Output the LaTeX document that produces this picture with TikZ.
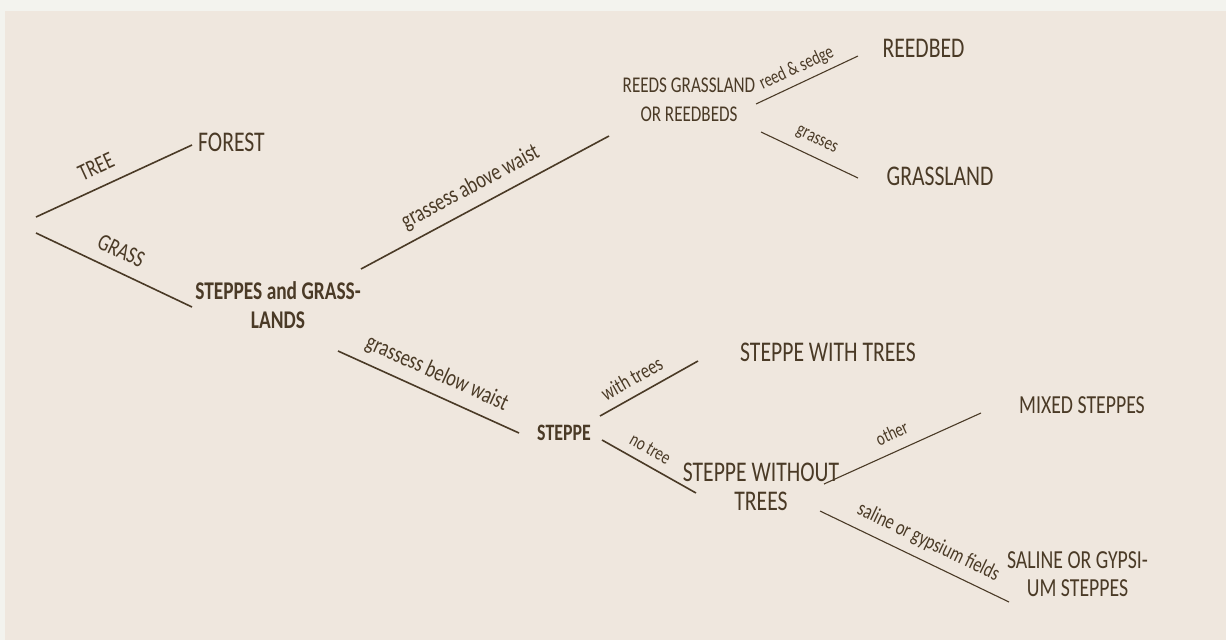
\documentclass[tikz,border=0pt]{standalone}
\usepackage{fontspec}
\setmainfont{Carlito}[FakeStretch=0.76]
\usepackage{tikz}
\usetikzlibrary{positioning}
\definecolor{bgouter}{RGB}{243,243,238}
\definecolor{bgpanel}{RGB}{239,231,222}
\definecolor{inkbrown}{RGB}{74,58,38}

\begin{document}
\begin{tikzpicture}[x=1pt,y=-1pt,
    every node/.style={text=inkbrown,inner sep=0pt},
    leaf/.style={font=\fontsize{28.5}{29}\selectfont,align=center},
    leafsm/.style={font=\fontsize{26}{28.5}\selectfont,align=center},
    middle/.style={font=\fontsize{22.5}{29}\selectfont,align=center},
    hub/.style={font=\bfseries\fontsize{25.5}{29}\selectfont,align=center},
    branch/.style={draw=inkbrown,line width=1.6pt},
    twig/.style={draw=inkbrown,line width=1.1pt},
    lbl/.style={sloped,above=9pt,font=\fontsize{24}{24}\selectfont},
    lblmid/.style={sloped,above=9pt,font=\fontsize{21.5}{22}\selectfont},
    lblsm/.style={sloped,above=9pt,font=\fontsize{19.5}{20}\selectfont}]
    % panel
    \fill[bgouter] (0,0) rectangle (1226,640);
    \fill[bgpanel] (5,11) rectangle (1226,640);
    \useasboundingbox (0,0) rectangle (1226,640);

    % categories
    \node[leaf] (forest) at (231.5,142) {FOREST};
    \node[hub] (steppes) at (278,305) {STEPPES and GRASS-\\LANDS};
    \node[middle] (reeds) at (689,100) {REEDS GRASSLAND\\OR REEDBEDS};
    \node[leaf] (reedbed) at (923.5,48) {REEDBED};
    \node[leaf] (grassland) at (940,176) {GRASSLAND};
    \node[hub,font=\bfseries\fontsize{23.5}{29}\selectfont] (steppe) at (564,432.5) {STEPPE};
    \node[leaf] (withtrees) at (828,352.5) {STEPPE WITH TREES};
    \node[leaf] (without) at (761,487) {STEPPE WITHOUT\\TREES};
    \node[leafsm] (mixed) at (1082,405) {MIXED STEPPES};
    \node[leafsm] (saline) at (1077.5,574) {SALINE OR GYPSI-\\UM STEPPES};

    % branch ends
    \coordinate (root a) at (36,217);
    \coordinate (root b) at (36,233);
    \coordinate (forest in) at (192,145);
    \coordinate (steppes in) at (192,307);
    \coordinate (steppes up) at (361,269);
    \coordinate (reeds in) at (609,136);
    \coordinate (steppes dn) at (338,351);
    \coordinate (steppe in) at (519,433);
    \coordinate (reeds up) at (756,104);
    \coordinate (reedbed in) at (858,56);
    \coordinate (reeds dn) at (761,132);
    \coordinate (grassland in) at (858,178);
    \coordinate (steppe up) at (600,416);
    \coordinate (withtrees in) at (698,361);
    \coordinate (steppe dn) at (602,440);
    \coordinate (without in) at (696,493);
    \coordinate (without up) at (824,484);
    \coordinate (mixed in) at (981,413);
    \coordinate (without dn) at (820,511);
    \coordinate (saline in) at (1009,602);

    % first split
    \draw[branch] (root a) -- (forest in) node[lbl,pos=.44,above=12pt] {TREE};
    \draw[branch] (root b) -- (steppes in) node[lbl,pos=.49,above=12pt] {GRASS};

    % grass height
    \draw[branch] (steppes up) -- (reeds in) node[lbl,pos=.48] {grassess above waist};
    \draw[branch] (steppes dn) -- (steppe in) node[lbl,pos=.5] {grassess below waist};

    % reeds
    \draw[twig] (reeds up) -- (reedbed in) node[lblsm,pos=.46,above=6pt] {reed \& sedge};
    \draw[twig] (reeds dn) -- (grassland in) node[lblsm,pos=.5] {grasses};

    % steppe
    \draw[branch] (steppe up) -- (withtrees in) node[lblmid,pos=.41] {with trees};
    \draw[branch] (steppe dn) -- (without in) node[lblsm,pos=.43] {no tree};
    \draw[twig] (without up) -- (mixed in) node[lblsm,pos=.48,above=11pt] {other};
    \draw[twig] (without dn) -- (saline in) node[lblmid,pos=.53] {saline or gypsium fields};
\end{tikzpicture}
\end{document}
